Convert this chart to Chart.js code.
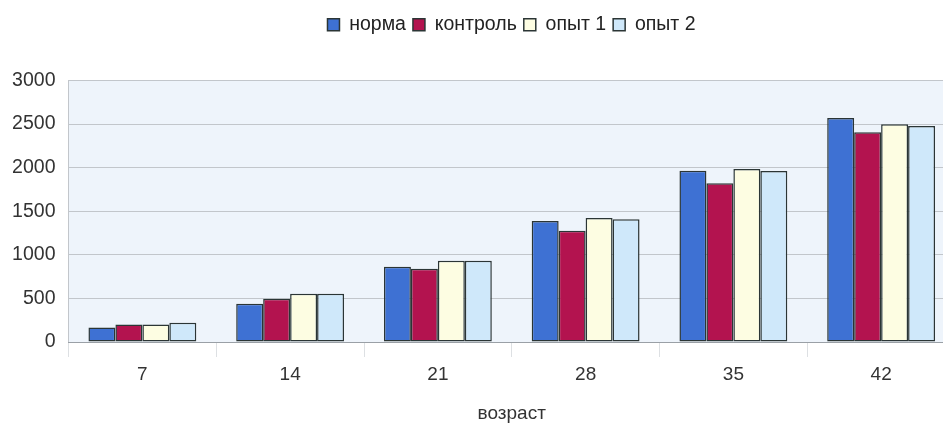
<!DOCTYPE html>
<html>
<head>
<meta charset="utf-8">
<script src="https://cdn.jsdelivr.net/npm/chart.js@4"></script>
<style>
    html, body { margin: 0; padding: 0; background: #fff; overflow: hidden; }
    #wrap { width: 960px; height: 425px; position: relative; }
</style>
</head>
<body>
<div id="wrap"><canvas id="chart"></canvas></div>
<script>
// Chart data
const ages = ['7', '14', '21', '28', '35', '42'];
const norma = [167, 440, 864, 1388, 1966, 2570];
const kontrol = [202, 497, 841, 1277, 1822, 2407];
const opyt1 = [202, 554, 932, 1422, 1985, 2498];
const opyt2 = [221, 554, 932, 1407, 1962, 2479];

const FONT = "'Liberation Sans', Arial, sans-serif";

// light blue background behind the bars
const plotBackground = {
    id: 'plotBackground',
    beforeDraw(chart) {
        const a = chart.chartArea;
        const ctx = chart.ctx;
        ctx.save();
        ctx.fillStyle = '#eef4fb';
        ctx.fillRect(a.left, a.top, a.right - a.left, a.bottom - a.top);
        ctx.restore();
    }
};

// legend sits a bit right of centre and has a gap below it
const legendTweak = {
    id: 'legendTweak',
    beforeLayout(chart) {
        const lg = chart.legend;
        if (lg && !lg._patched) {
            const fit = lg.fit;
            lg.fit = function() {
                fit.call(this);
                this.height += 36;
            };
            lg._patched = true;
        }
    },
    afterLayout(chart) {
        const lg = chart.legend;
        if (lg) {
            lg.left += 34;
            lg.right += 34;
        }
    }
};

function makeDataset(label, data, color) {
    return {
        label: label,
        data: data,
        backgroundColor: color,
        borderColor: '#2b3535',
        borderWidth: 1.5,
        borderSkipped: false
    };
}

new Chart(document.getElementById('chart').getContext('2d'), {
    type: 'bar',
    data: {
        labels: ages,
        datasets: [
            makeDataset('норма', norma, '#3e71d3'),
            makeDataset('контроль', kontrol, '#b3134f'),
            makeDataset('опыт 1', opyt1, '#fdfde2'),
            makeDataset('опыт 2', opyt2, '#cfe8fa')
        ]
    },
    options: {
        responsive: true,
        maintainAspectRatio: false,
        animation: false,
        layout: { padding: { left: 0, right: 5, top: 8, bottom: 0 } },
        datasets: { bar: { categoryPercentage: 0.73, barPercentage: 1.0 } },
        plugins: {
            tooltip: { enabled: false },
            legend: {
                position: 'top',
                labels: {
                    color: '#222',
                    font: { family: FONT, size: 19.5 },
                    boxWidth: 12,
                    boxHeight: 12,
                    padding: 7
                }
            }
        },
        scales: {
            y: {
                min: 0,
                max: 3000,
                afterFit: (scale) => { scale.width = 68.5; },
                ticks: {
                    stepSize: 500,
                    callback: (v) => String(v),
                    color: '#333',
                    font: { family: FONT, size: 19.5 },
                    padding: 13
                },
                grid: { color: '#c2c6cb', drawTicks: false },
                border: { color: '#c2c6cb' }
            },
            x: {
                afterFit: (scale) => { scale.height = 83; },
                ticks: {
                    color: '#333',
                    font: { family: FONT, size: 19 },
                    padding: 6
                },
                grid: {
                    offset: true,
                    drawOnChartArea: false,
                    drawTicks: true,
                    tickLength: 15,
                    color: '#dde0e3'
                },
                border: { color: '#9aa0a6' },
                title: {
                    display: true,
                    text: 'возраст',
                    color: '#333',
                    font: { family: FONT, size: 19 },
                    padding: { top: 0, bottom: 0 }
                }
            }
        }
    },
    plugins: [plotBackground, legendTweak]
});
</script>
</body>
</html>
